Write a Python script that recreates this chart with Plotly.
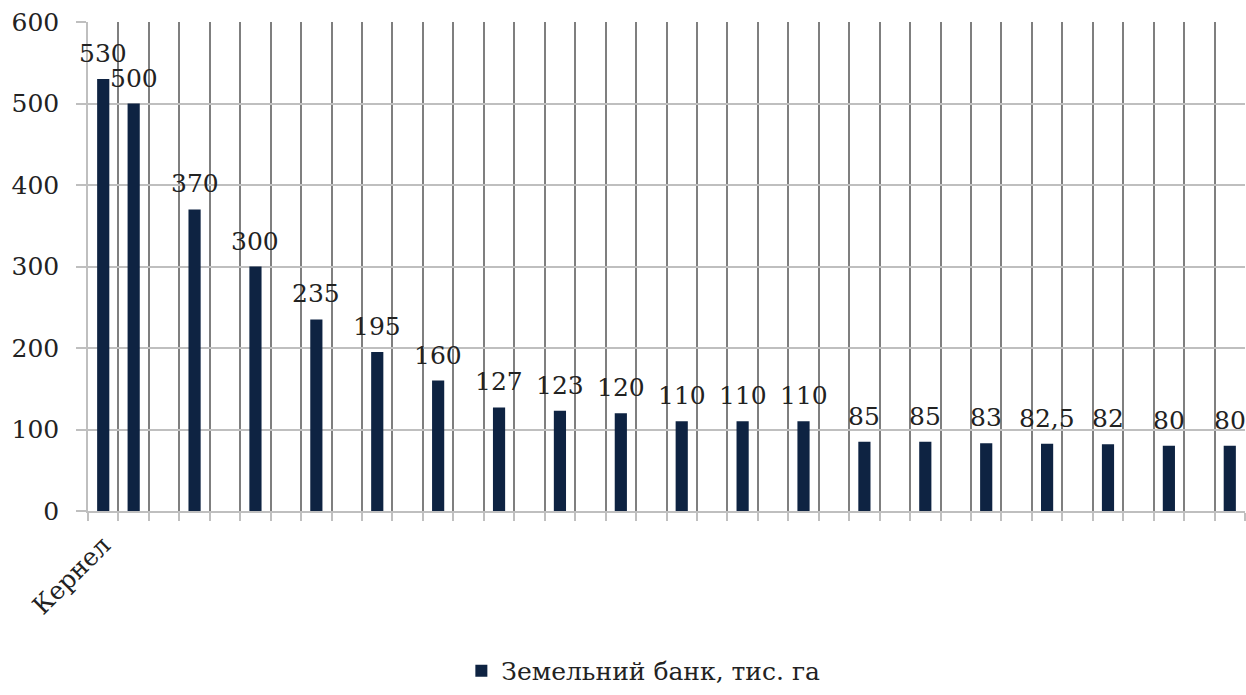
import plotly.graph_objects as go

# 38 category slots; only the first label is visible in the reference
labels = ["Кернел"] + [""] * 37
values = [530, 500, None, 370, None, 300, None, 235, None, 195, None, 160,
          None, 127, None, 123, None, 120, None, 110, None, 110, None, 110,
          None, 85, None, 85, None, 83, None, 82.5, None, 82, None, 80, None, 80]
value_text = ["530", "500", "", "370", "", "300", "", "235", "", "195", "", "160",
              "", "127", "", "123", "", "120", "", "110", "", "110", "", "110",
              "", "85", "", "85", "", "83", "", "82,5", "", "82", "", "80", "", "80"]
series_name = "Земельний банк, тис. га"
y_ticks = [0, 100, 200, 300, 400, 500, 600]

FONT = "DejaVu Serif"
FS = 25
BAR = "#0e2342"
TXT = "#222222"
x = list(range(len(labels)))

fig = go.Figure()
fig.add_trace(go.Bar(
    x=x, y=values, name=series_name,
    marker=dict(color=BAR, line=dict(width=0)),
    width=0.4,
))

for xi, v, t in zip(x, values, value_text):
    if v is None:
        continue
    fig.add_annotation(x=xi, y=v, text=t, showarrow=False, yanchor="bottom",
                       yshift=9, font=dict(family=FONT, size=FS, color=TXT))

fig.update_layout(
    width=1246, height=695,
    margin=dict(l=88, r=1, t=22, b=179),
    paper_bgcolor="white", plot_bgcolor="white",
    font=dict(family=FONT, size=FS, color=TXT),
    showlegend=True,
    legend=dict(orientation="h", x=0.48, xanchor="center", y=-0.327, yanchor="middle",
                font=dict(family=FONT, size=FS, color=TXT),
                itemwidth=30, bgcolor="rgba(0,0,0,0)"),
    bargap=0.6,
)
fig.update_xaxes(
    range=[-0.5, len(labels) - 0.5],
    tickmode="array", tickvals=[0], ticktext=[labels[0]],
    tickangle=-45, ticks="", showgrid=False, zeroline=False,
    showline=True, linecolor="#bfbfbf", linewidth=1.5,
    tickfont=dict(family=FONT, size=FS, color=TXT),
    ticklabelstandoff=8,
    minor=dict(tick0=-0.5, dtick=1, showgrid=True, gridcolor="#7f7f7f", gridwidth=1.5,
               ticks="outside", ticklen=8, tickcolor="#bfbfbf", tickwidth=1.5),
)
fig.update_yaxes(
    range=[0, 600], tickmode="array", tickvals=y_ticks,
    showgrid=True, gridcolor="#bfbfbf", gridwidth=1.5, zeroline=False,
    showline=True, linecolor="#bfbfbf", linewidth=1.5,
    ticks="outside", ticklen=10, tickcolor="#bfbfbf", tickwidth=1.5,
    tickfont=dict(family=FONT, size=FS, color=TXT),
    ticklabelstandoff=12,
)

fig.write_html("out.html")
